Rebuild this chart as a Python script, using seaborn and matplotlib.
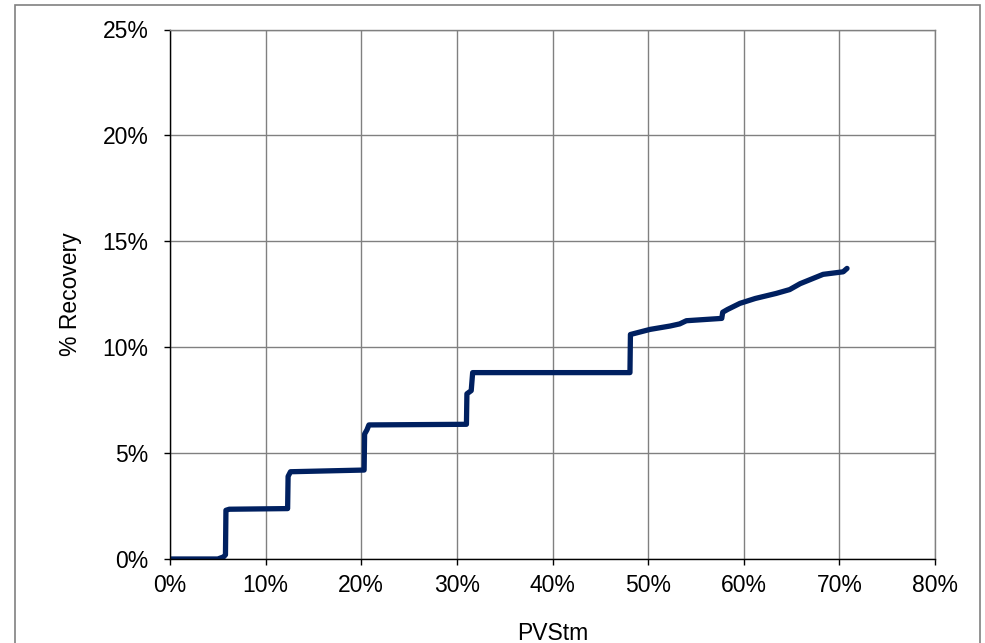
import matplotlib
matplotlib.use("Agg")
import matplotlib.pyplot as plt
from matplotlib.ticker import PercentFormatter, MultipleLocator
from matplotlib.patches import Rectangle
import seaborn as sns
import pandas as pd

# Cumulative recovery versus pore volumes of steam injected
pv_steam = [0.0, 5.0, 5.6, 5.8, 5.85, 6.2, 12.3, 12.35, 12.6, 20.3, 20.35, 20.6,
            20.8, 31.0, 31.05, 31.5, 31.65, 48.1, 48.15, 50.2, 52.3, 53.3, 54.0,
            57.7, 57.8, 58.3, 59.6, 61.2, 63.4, 64.8, 65.9, 68.3, 70.4, 70.8]
recovery = [0.0, 0.0, 0.1, 0.2, 2.3, 2.35, 2.38, 3.9, 4.12, 4.2, 5.9, 6.1,
            6.33, 6.36, 7.8, 7.95, 8.8, 8.8, 10.6, 10.84, 11.0, 11.1, 11.25,
            11.36, 11.65, 11.78, 12.07, 12.3, 12.54, 12.72, 13.0, 13.44, 13.56, 13.72]

df = pd.DataFrame({"PVStm": pv_steam, "Recovery": recovery})

sns.set_theme(style="white")
plt.rcParams["font.family"] = ["Liberation Sans", "DejaVu Sans"]

fig = plt.figure(figsize=(9.85, 6.43), dpi=100)
ax = fig.add_axes([170 / 985, 1 - 559 / 643, (935 - 170) / 985, (559 - 29.5) / 643])

sns.lineplot(data=df, x="PVStm", y="Recovery", ax=ax, sort=False, estimator=None,
             color="#002060", linewidth=3.8, solid_capstyle="round",
             solid_joinstyle="round")

ax.set_xlim(0, 80)
ax.set_ylim(0, 25)
ax.xaxis.set_major_locator(MultipleLocator(10))
ax.yaxis.set_major_locator(MultipleLocator(5))
ax.xaxis.set_major_formatter(PercentFormatter(decimals=0))
ax.yaxis.set_major_formatter(PercentFormatter(decimals=0))

ax.grid(True, color="#808080", linewidth=1.0)
ax.set_axisbelow(True)
for side in ("top", "right"):
    ax.spines[side].set_color("#808080")
    ax.spines[side].set_linewidth(1.0)
for side in ("left", "bottom"):
    ax.spines[side].set_color("black")
    ax.spines[side].set_linewidth(1.0)

ax.tick_params(axis="both", which="major", direction="out", length=4.5, width=1,
               color="black", labelsize=16.5, labelcolor="black",
               left=True, bottom=True)
ax.tick_params(axis="x", pad=6)
ax.tick_params(axis="y", pad=11)

ax.set_xlabel("PVStm", fontsize=16.5, color="black", labelpad=18)
ax.set_ylabel("% Recovery", fontsize=16.5, color="black", labelpad=15)

# Chart area frame
fig.patches.append(Rectangle((15 / 985, -0.05), (980 - 15) / 985, 1 - 5 / 643 + 0.05,
                             transform=fig.transFigure, fill=False,
                             edgecolor="#808080", linewidth=1.2))

fig.savefig("out.png", dpi=100)
